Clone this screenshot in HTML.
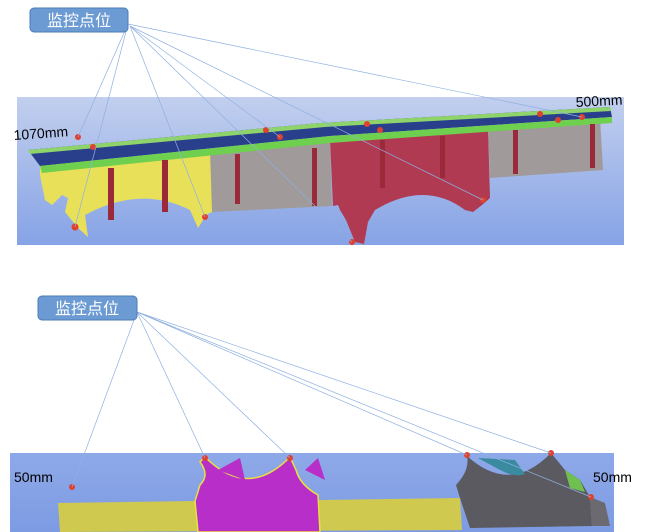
<!DOCTYPE html>
<html><head><meta charset="utf-8"><style>
html,body{margin:0;padding:0;background:#fff;width:653px;height:532px;overflow:hidden}
svg{display:block}
text{font-family:"Liberation Sans","Noto Sans CJK SC",sans-serif}
</style></head><body>
<svg width="653" height="532" viewBox="0 0 653 532" xmlns="http://www.w3.org/2000/svg">
<defs>
<linearGradient id="bg1" x1="0" y1="0" x2="0" y2="1"><stop offset="0" stop-color="#c2cfee"/><stop offset="1" stop-color="#86a3e6"/></linearGradient>
<linearGradient id="bg2" x1="0" y1="0" x2="0" y2="1"><stop offset="0" stop-color="#8ea9e8"/><stop offset="1" stop-color="#7d9be3"/></linearGradient>
</defs>
<rect x="17" y="97" width="607" height="148" fill="url(#bg1)"/>
<!-- yellow part -->
<path d="M40,165 L212,150 L212,212 Q205,215 205,217 L198,228 L190,210 Q140,185 85,215 L88,237 L78,228 L65,212 L68,198 L62,195 L52,205 L45,200 L40,175 Z" fill="#e8e058"/>
<!-- grey 1 -->
<polygon points="210,150 330,140 332,206 212,212" fill="#a09a9a"/>
<!-- red -->
<path d="M330,140 L488,126 L490,198 L482,205 L473,212 L465,210 Q425,180 375,210 L368,222 L364,244 L355,242 L346,220 L340,210 L338,205 L333,206 Z" fill="#b03a52"/>
<!-- grey 2 -->
<polygon points="488,126 600,118 603,170 490,178" fill="#a09a9a"/>
<!-- deck -->
<polygon points="28,150 320,123 610,107 612,117 330,136 40,166" fill="#2a3f8c"/>
<polygon points="28,150 320,123 610,107 611,111 325,127 30,154" fill="#8fd46a"/>
<polygon points="40,166 330,136 612,117 612,123 330,143 42,173" fill="#6fd04f"/>
<g fill="#9a2a3a">
<rect x="108" y="168" width="6" height="52"/><rect x="162" y="160" width="6" height="52"/>
<rect x="235" y="154" width="5" height="50"/><rect x="312" y="148" width="5" height="58"/>
<rect x="380" y="140" width="5" height="48"/><rect x="440" y="136" width="5" height="42"/>
<rect x="513" y="130" width="5" height="44"/><rect x="590" y="124" width="5" height="44"/>
</g>
<g fill="#e04030">
<circle cx="78" cy="137" r="3"/><circle cx="93" cy="147" r="3"/><circle cx="75" cy="227" r="3.5"/>
<circle cx="205" cy="217" r="3"/><circle cx="266" cy="130" r="3"/><circle cx="280" cy="137" r="3"/>
<circle cx="367" cy="124" r="3"/><circle cx="380" cy="130" r="3"/><circle cx="352" cy="242" r="3"/>
<circle cx="483" cy="200" r="3"/><circle cx="540" cy="114" r="3"/><circle cx="558" cy="120" r="3"/><circle cx="582" cy="117" r="3"/>
</g>
<text x="14" y="140" font-size="14" transform="rotate(-4 14 140)">1070mm</text>
<text x="576" y="107" font-size="14" transform="rotate(-3 576 107)">500mm</text>
<g stroke="#8fb0e0" stroke-width="0.7" fill="none">
<line x1="128" y1="24" x2="78" y2="137"/><line x1="128" y1="24" x2="75" y2="227"/>
<line x1="130" y1="26" x2="205" y2="217"/><line x1="130" y1="26" x2="280" y2="137"/>
<line x1="130" y1="26" x2="352" y2="242"/><line x1="130" y1="26" x2="483" y2="200"/>
<line x1="128" y1="24" x2="582" y2="117"/>
</g>
<rect x="30" y="8" width="98" height="24" rx="4" fill="#6b9bd2" stroke="#4e7cb8"/>
<text x="79" y="26" font-size="16" fill="#fff" text-anchor="middle">监控点位</text>
<!-- bottom panel -->
<rect x="10" y="453" width="604" height="79" fill="url(#bg2)"/>
<polygon points="58,503 195,501 320,500 460,498 462,530 60,532" fill="#cfc950"/>
<path d="M195,501 L200,485 Q210,475 200,462 L205,457 Q248,500 290,457 L296,470 Q300,485 318,495 L320,532 L198,532 Z" fill="#b82ec8" stroke="#e8e040" stroke-width="1.5"/>
<path d="M460,498 L456,485 Q470,470 467,456 Q510,495 551,453 L565,470 L580,480 L590,497 L592,526 L470,528 Z" fill="#5a5a60"/>
<path d="M478,458 L500,470 Q515,478 525,474 L515,460 Z" fill="#3a8aa0"/>
<path d="M565,470 L580,480 L585,492 L570,488 Z" fill="#70c050"/>
<polygon points="590,497 605,503 610,526 592,526" fill="#6a6a70"/>
<polygon points="218,470 240,458 245,480" fill="#b82ec8"/>
<polygon points="305,470 318,458 325,480" fill="#b82ec8"/>
<g fill="#e04030">
<circle cx="72" cy="487" r="3"/><circle cx="205" cy="458" r="3"/><circle cx="290" cy="458" r="3"/>
<circle cx="467" cy="455" r="3"/><circle cx="551" cy="453" r="3"/><circle cx="591" cy="497" r="3"/>
</g>
<text x="14" y="482" font-size="14">50mm</text>
<text x="593" y="482" font-size="14">50mm</text>
<g stroke="#8fb0e0" stroke-width="0.7" fill="none">
<line x1="137" y1="312" x2="72" y2="487"/><line x1="137" y1="312" x2="205" y2="458"/>
<line x1="137" y1="312" x2="290" y2="458"/><line x1="137" y1="312" x2="467" y2="455"/>
<line x1="137" y1="312" x2="551" y2="453"/><line x1="137" y1="312" x2="591" y2="497"/>
</g>
<rect x="38" y="296" width="99" height="24" rx="4" fill="#6b9bd2" stroke="#4e7cb8"/>
<text x="87" y="314" font-size="16" fill="#fff" text-anchor="middle">监控点位</text>
</svg>
</body></html>
